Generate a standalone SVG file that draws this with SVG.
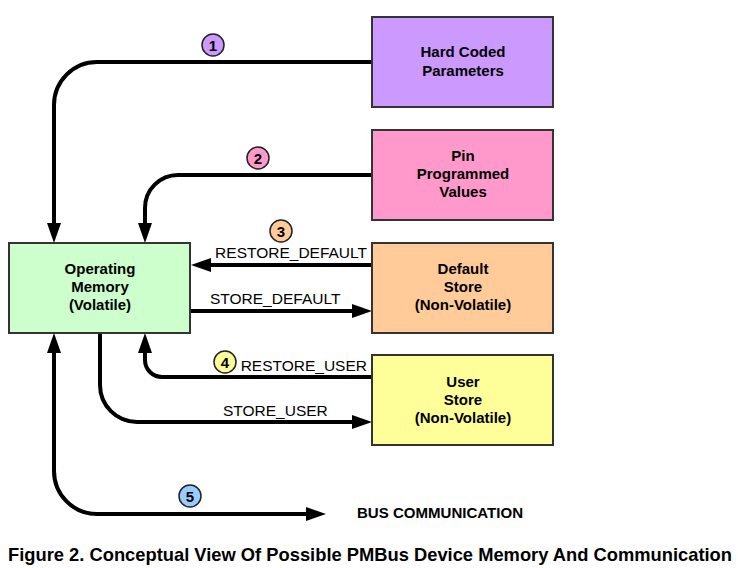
<svg xmlns="http://www.w3.org/2000/svg" width="738" height="568" viewBox="0 0 738 568">
<style>
.box{stroke:#333;stroke-width:2}
.t{font-family:"Liberation Sans",Arial,sans-serif;font-weight:bold;font-size:15px;fill:#000;text-anchor:middle}
.lbl{font-family:"Liberation Sans",Arial,sans-serif;font-size:15.5px;fill:#000}
.c{fill:none;stroke:#000;stroke-width:4}
.num{stroke:#222;stroke-width:1.5}
.nt{font-family:"Liberation Sans",Arial,sans-serif;font-weight:bold;font-size:15px;fill:#000;text-anchor:middle}
</style>
<defs>
<marker id="ah" markerUnits="userSpaceOnUse" markerWidth="20" markerHeight="14" refX="0" refY="7" orient="auto-start-reverse" overflow="visible">
<path d="M0,0 L20,7 L0,14 z" fill="#000"/>
</marker>
</defs>
<rect width="738" height="568" fill="#fff"/>
<g id="connectors">
<path class="c" d="M372,62 H97 A43,43 0 0 0 54,105 V223" marker-end="url(#ah)"/>
<path class="c" d="M372,175 H178 A33,33 0 0 0 145,208 V223" marker-end="url(#ah)"/>
<path class="c" d="M372,265 H211" marker-end="url(#ah)"/>
<path class="c" d="M190,311 H352" marker-end="url(#ah)"/>
<path class="c" d="M372,377 H162 A17,17 0 0 1 145,360 V353" marker-end="url(#ah)"/>
<path class="c" d="M100,333 V385 A37,37 0 0 0 137,422 H352" marker-end="url(#ah)"/>
<path class="c" d="M54,353 V471 A43,43 0 0 0 97,514 H306" marker-start="url(#ah)" marker-end="url(#ah)"/>
<text class="lbl" x="367" y="258" text-anchor="end">RESTORE_DEFAULT</text>
<text class="lbl" x="210" y="304">STORE_DEFAULT</text>
<text class="lbl" x="367" y="371" text-anchor="end">RESTORE_USER</text>
<text class="lbl" x="223" y="416">STORE_USER</text>
<g id="n1"><circle class="num" cx="213" cy="45" r="11" fill="#cc99ff"/><text class="nt" x="213" y="50.5">1</text></g>
<g id="n2"><circle class="num" cx="258" cy="158" r="11" fill="#ff99cc"/><text class="nt" x="258" y="163.5">2</text></g>
<g id="n3"><circle class="num" cx="281" cy="231" r="11" fill="#ffcc99"/><text class="nt" x="281" y="236.5">3</text></g>
<g id="n4"><circle class="num" cx="225" cy="362" r="11" fill="#ffff99"/><text class="nt" x="225" y="367.5">4</text></g>
<g id="n5"><circle class="num" cx="190" cy="496" r="11" fill="#99ccff"/><text class="nt" x="190" y="501.5">5</text></g>
</g>
<g id="operating">
<rect class="box" x="9" y="243" width="181" height="90" fill="#ccffcc"/>
<text class="t" x="100" y="274">Operating</text>
<text class="t" x="100" y="292">Memory</text>
<text class="t" x="100" y="310">(Volatile)</text>
</g>
<g id="hardcoded">
<rect class="box" x="372" y="17" width="181" height="90" fill="#cc99ff"/>
<text class="t" x="463" y="57">Hard Coded</text>
<text class="t" x="463" y="76">Parameters</text>
</g>
<g id="pin">
<rect class="box" x="372" y="130" width="181" height="90" fill="#ff99cc"/>
<text class="t" x="463" y="161">Pin</text>
<text class="t" x="463" y="179">Programmed</text>
<text class="t" x="463" y="197">Values</text>
</g>
<g id="default">
<rect class="box" x="372" y="243" width="181" height="90" fill="#ffcc99"/>
<text class="t" x="463" y="274">Default</text>
<text class="t" x="463" y="292">Store</text>
<text class="t" x="463" y="310">(Non-Volatile)</text>
</g>
<g id="user">
<rect class="box" x="372" y="355" width="181" height="90" fill="#ffff99"/>
<text class="t" x="463" y="387">User</text>
<text class="t" x="463" y="405">Store</text>
<text class="t" x="463" y="423">(Non-Volatile)</text>
</g>
<g id="bus">
<text x="357" y="518" font-family="'Liberation Sans',Arial,sans-serif" font-weight="bold" font-size="15px" textLength="166" lengthAdjust="spacingAndGlyphs">BUS COMMUNICATION</text>
</g>
<text x="8" y="561" font-family="'Liberation Sans',Arial,sans-serif" font-weight="bold" font-size="18.5px" textLength="724" lengthAdjust="spacingAndGlyphs">Figure 2. Conceptual View Of Possible PMBus Device Memory And Communication</text>
</svg>
